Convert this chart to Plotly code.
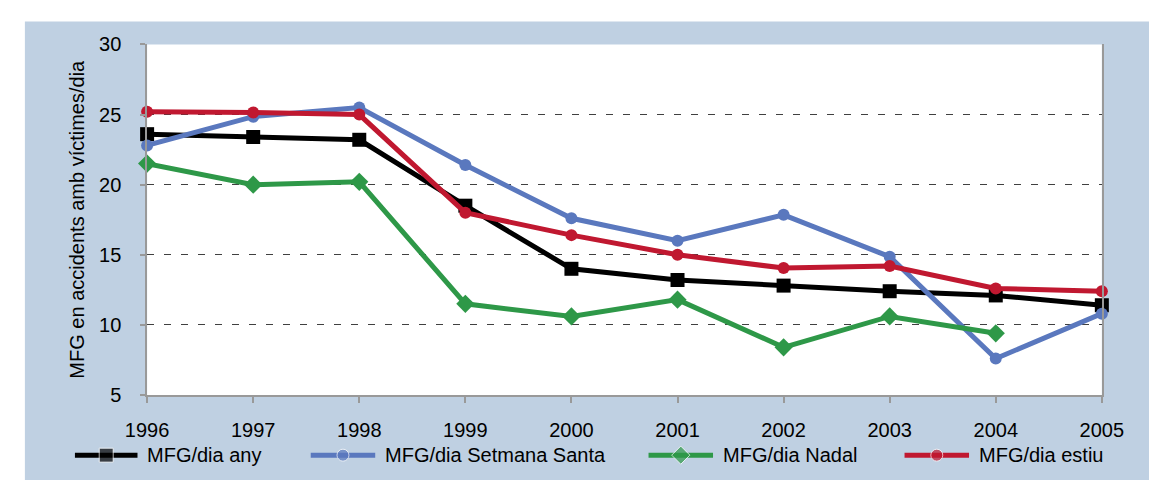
import plotly.graph_objects as go

# Fatalitats i ferits greus (MFG) per dia, 1996-2005
years = [1996, 1997, 1998, 1999, 2000, 2001, 2002, 2003, 2004, 2005]
mfg_any = [23.6, 23.4, 23.2, 18.5, 14.0, 13.2, 12.8, 12.4, 12.1, 11.4]
mfg_setmana_santa = [22.8, 24.85, 25.5, 21.4, 17.6, 16.0, 17.85, 14.86, 7.6, 10.8]
mfg_nadal = [21.5, 20.0, 20.2, 11.5, 10.6, 11.8, 8.4, 10.6, 9.4, None]
mfg_estiu = [25.2, 25.15, 25.0, 18.0, 16.4, 15.0, 14.05, 14.2, 12.6, 12.4]

series_names = ["MFG/dia any", "MFG/dia Setmana Santa", "MFG/dia Nadal", "MFG/dia estiu"]
y_ticks = [5, 10, 15, 20, 25, 30]

# Figure geometry (pixels)
W, H = 1171, 491
PLOT_L, PLOT_R, PLOT_T, PLOT_B = 130, 1122, 35, 402
BG_L, BG_T = 3, 11
LEG_Y = 465
LEG_KEYS = [(55, 120), (300, 367), (651, 718), (917, 984)]

FONT = "Liberation Sans, Arial, sans-serif"
BG_BLUE = "#bfd0e2"
styles = [
    dict(color="#000000", symbol="square", size=14),
    dict(color="#5a78be", symbol="circle", size=12),
    dict(color="#2e9848", symbol="diamond", size=14),
    dict(color="#c01830", symbol="circle", size=12),
]
series_values = [mfg_any, mfg_setmana_santa, mfg_nadal, mfg_estiu]

fig = go.Figure()

for name, vals, st in zip(series_names, series_values, styles):
    fig.add_trace(go.Scatter(
        x=years, y=vals, name=name, mode="lines+markers",
        line=dict(color=st["color"], width=5),
        marker=dict(color=st["color"], symbol=st["symbol"], size=st["size"]),
        cliponaxis=False, showlegend=False,
        xaxis="x", yaxis="y",
    ))

# Legend keys drawn on a full-figure pixel axis
for name, st, (x0, x1) in zip(series_names, styles, LEG_KEYS):
    xm = (x0 + x1) / 2
    fig.add_trace(go.Scatter(
        x=[x0, xm, x1], y=[LEG_Y] * 3, mode="lines+markers",
        line=dict(color=st["color"], width=5),
        marker=dict(color=st["color"], symbol=st["symbol"],
                    size=[0, st["size"], 0]),
        cliponaxis=False, showlegend=False, hoverinfo="skip",
        xaxis="x2", yaxis="y2",
    ))
    fig.add_annotation(
        x=x1 + 8, y=LEG_Y, xref="x2", yref="y2", text=name,
        showarrow=False, xanchor="left", yanchor="middle",
        font=dict(family=FONT, size=20, color="#000000"),
    )

fig.update_layout(
    width=W, height=H,
    margin=dict(l=0, r=0, t=0, b=0),
    paper_bgcolor="#ffffff",
    plot_bgcolor="rgba(0,0,0,0)",
    font=dict(family=FONT, size=20, color="#000000"),
    showlegend=False,
    xaxis=dict(
        domain=[PLOT_L / W, PLOT_R / W], anchor="y",
        range=[years[0], years[-1]], tickvals=years,
        ticks="outside", ticklen=6, tickcolor="#999999", tickwidth=1.5,
        showline=True, linecolor="#999999", linewidth=1.5,
        showgrid=False, zeroline=False,
        tickfont=dict(family=FONT, size=20), ticklabelstandoff=10,
    ),
    yaxis=dict(
        domain=[1 - PLOT_B / H, 1 - PLOT_T / H], anchor="x",
        range=[y_ticks[0], y_ticks[-1]], tickvals=y_ticks,
        ticks="outside", ticklen=5, tickcolor="#999999", tickwidth=1.5,
        showline=True, linecolor="#999999", linewidth=1.5, mirror=True,
        showgrid=True, gridcolor="#404040", gridwidth=1.3, griddash="7px,10px",
        zeroline=False,
        tickfont=dict(family=FONT, size=20), ticklabelstandoff=15,
        title=dict(text="MFG en accidents amb víctimes/dia",
                   font=dict(family=FONT, size=20), standoff=9),
    ),
    xaxis2=dict(domain=[0, 1], range=[0, W], anchor="y2", visible=False, fixedrange=True),
    yaxis2=dict(domain=[0, 1], range=[H, 0], anchor="x2", visible=False, fixedrange=True),
    shapes=[
        dict(type="rect", xref="paper", yref="paper", layer="below",
             x0=BG_L / W, x1=1, y0=0, y1=1 - BG_T / H,
             fillcolor=BG_BLUE, line=dict(width=0)),
        dict(type="rect", xref="paper", yref="paper", layer="below",
             x0=PLOT_L / W, x1=PLOT_R / W, y0=1 - PLOT_B / H, y1=1 - PLOT_T / H,
             fillcolor="#ffffff", line=dict(width=0)),
    ],
)

fig.write_html("out.html")
